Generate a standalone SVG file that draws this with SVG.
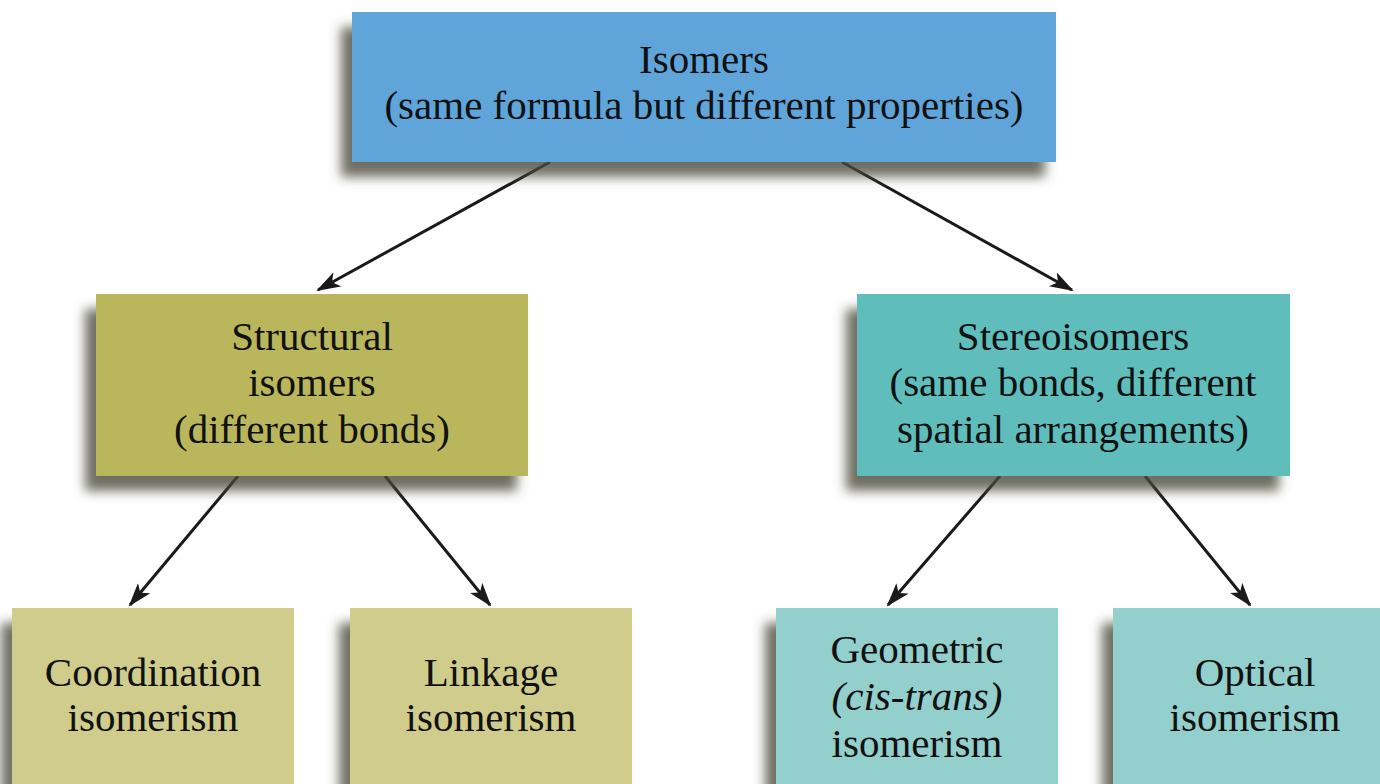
<svg xmlns="http://www.w3.org/2000/svg" width="1380" height="784" viewBox="0 0 1380 784">
<style>
text{font-family:"Liberation Serif","Times New Roman",serif;font-size:41px;fill:#111;text-anchor:middle}
.c{stroke:#1a1a1a;stroke-width:3;fill:none;marker-end:url(#ah)}
.box{filter:url(#sh)}
</style>
<defs>
<filter id="sh" x="-10%" y="-10%" width="120%" height="130%">
<feDropShadow dx="-11" dy="15" stdDeviation="6" flood-color="#4a4a3a" flood-opacity="0.8"/>
</filter>
<marker id="ah" markerWidth="24" markerHeight="16" refX="22" refY="8" orient="auto" markerUnits="userSpaceOnUse">
<path d="M0,0 L24,8 L0,16 L6,8 Z" fill="#1a1a1a"/>
</marker>
</defs>
<rect width="1380" height="784" fill="#fff"/>
<g id="connectors">
<line class="c" x1="550" y1="162" x2="318" y2="290"/>
<line class="c" x1="842" y1="162" x2="1072" y2="290"/>
<line class="c" x1="238" y1="476" x2="130" y2="605"/>
<line class="c" x1="385" y1="476" x2="490" y2="605"/>
<line class="c" x1="1000" y1="476" x2="888" y2="605"/>
<line class="c" x1="1145" y1="476" x2="1250" y2="605"/>
</g>
<g id="isomers">
<rect class="box" x="352" y="12" width="704" height="150" fill="#5fa5da"/>
<text x="704" y="73">Isomers</text>
<text x="704" y="119">(same formula but different properties)</text>
</g>
<g id="structural">
<rect class="box" x="96" y="294" width="432" height="182" fill="#b9b65b"/>
<text x="312" y="350">Structural</text>
<text x="312" y="396">isomers</text>
<text x="312" y="443">(different bonds)</text>
</g>
<g id="stereo">
<rect class="box" x="857" y="294" width="433" height="182" fill="#5fbebc"/>
<text x="1073" y="350">Stereoisomers</text>
<text x="1073" y="396">(same bonds, different</text>
<text x="1073" y="443">spatial arrangements)</text>
</g>
<g id="coordination">
<rect class="box" x="12" y="608" width="282" height="190" fill="#cfcc8c"/>
<text x="153" y="686">Coordination</text>
<text x="153" y="731">isomerism</text>
</g>
<g id="linkage">
<rect class="box" x="350" y="608" width="282" height="190" fill="#cfcc8c"/>
<text x="491" y="686">Linkage</text>
<text x="491" y="731">isomerism</text>
</g>
<g id="geometric">
<rect class="box" x="776" y="608" width="282" height="190" fill="#93cfcc"/>
<text x="917" y="663">Geometric</text>
<text x="917" y="710"><tspan font-style="italic">(cis-trans)</tspan></text>
<text x="917" y="757">isomerism</text>
</g>
<g id="optical">
<rect class="box" x="1113" y="608" width="282" height="190" fill="#93cfcc"/>
<text x="1255" y="686">Optical</text>
<text x="1255" y="731">isomerism</text>
</g>
</svg>
